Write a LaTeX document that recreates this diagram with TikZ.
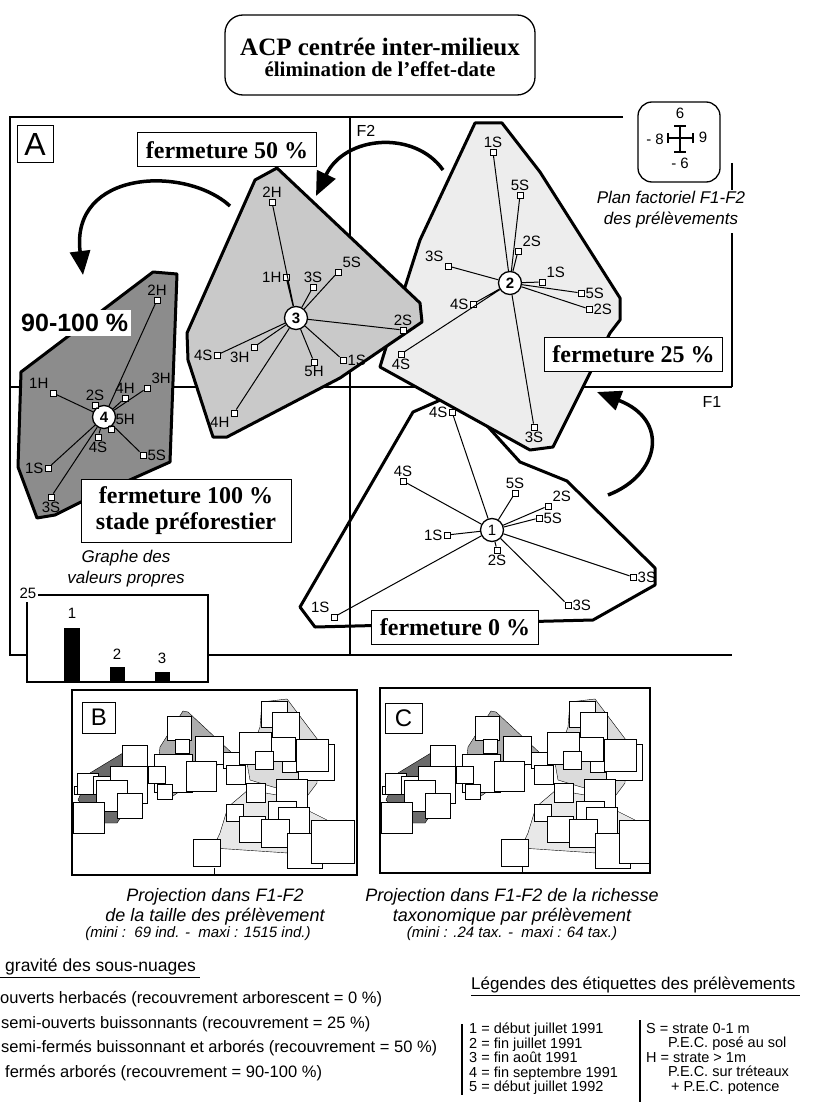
\documentclass[tikz,border=0pt]{standalone}
\usepackage{fontspec}
\setmainfont{Liberation Serif}
\setsansfont{Liberation Sans}
\usetikzlibrary{arrows.meta}
\definecolor{grisA}{gray}{0.93}
\definecolor{grisB}{gray}{0.79}
\definecolor{grisC}{gray}{0.55}
\definecolor{grisD}{gray}{0.42}
\definecolor{grisE}{gray}{0.68}
\definecolor{grisF}{gray}{0.86}
\definecolor{grisG}{gray}{0.91}
\tikzset{
    CC1/.style ={circle, minimum size=23pt, inner sep=0pt, draw, fill=white, line width=1.3pt, font=\sffamily\bfseries\fontsize{15}{15}\selectfont},
    SQ/.style ={rectangle, minimum size=6pt, inner sep=0pt, draw, fill=white, line width=0.9pt},
    RA1/.style ={rectangle, draw, fill=white, line width=1pt, inner xsep=8pt, minimum height=34pt, align=center, font=\bfseries\fontsize{24}{26}\selectfont},
    RA2/.style ={rectangle, draw, line width=1pt, inner sep=0pt},
    RA3/.style ={rectangle, rounded corners=18pt, draw, line width=1.3pt},
    LB/.style ={inner sep=1pt, font=\sffamily\fontsize{15}{15}\selectfont},
    IT/.style ={inner sep=0pt, align=center, font=\sffamily\itshape\fontsize{17}{21}\selectfont},
    LG/.style ={inner sep=0pt, anchor=west, font=\sffamily\fontsize{16.5}{16.5}\selectfont},
    HU/.style ={line width=3pt, line join=round},
    RY/.style ={line width=1pt},
    AX/.style ={line width=1.3pt},
    FL/.style ={line width=3.5pt, -{Triangle[length=24pt,width=20pt]}},
    PQ/.style ={draw, fill=white, line width=0.7pt}}
\newcommand{\nuage}{%
    \draw[thin, fill=grisD] (90,773) -- (123,753) -- (140,790) -- (117,823) -- (100,823) -- (78,800) -- cycle;
    \draw[thin, fill=grisE] (183,711) -- (188,712) -- (233,754) -- (173,796) -- (155,792) -- (160,747) -- cycle;
    \draw[thin, fill=grisF] (262,702) -- (287,699) -- (318,740) -- (317,783) -- (308,795) -- (273,787) -- (250,780) -- (247,763) -- (260,727) -- cycle;
    \draw[thin, fill=grisG] (248,790) -- (277,795) -- (327,820) -- (320,853) -- (288,853) -- (213,848) -- (220,833) -- (228,807) -- cycle;
    \foreach \x/\y/\s in {122/745/25, 74/786/8, 77/773/21, 93/776/18, 110/766/37, 96/780/31, 117/793/25, 73/802/31,
        167/716/24, 175/739/14, 195/736/28, 223/752/16, 154/754/38, 186/761/30, 148/766/17, 157/784/15,
        261/701/26, 272/712/27, 239/732/32, 282/757/15, 271/737/24, 298/744/36, 296/739/32, 255/751/18,
        226/765/19, 246/783/19, 276/779/31, 268/801/28, 278/807/31, 226/804/17, 239/816/26,
        261/819/28, 287/833/35, 311/820/43, 193/839/27}
        \draw[PQ] (\x,\y) rectangle ++(\s,\s);}

\begin{document}
\begin{tikzpicture}[x=1pt,y=-1pt]
    \useasboundingbox (0,0) rectangle (817,1102);
    % titre
    \node[RA3, minimum width=310pt, minimum height=80pt] (titre) at (380,55) {};
    \node[font=\bfseries\fontsize{25}{25}\selectfont] (t1) at (380,47) {ACP centrée inter-milieux};
    \node[font=\bfseries\fontsize{21}{21}\selectfont] (t2) at (380,69) {élimination de l'effet-date};
    % cadre A et axes
    \draw[AX] (623,117) -- (10,117) -- (10,655) -- (27,655);
    \draw[AX] (208,655) -- (732,655);
    \draw[AX] (732,163) -- (732,190);
    \draw[AX] (732,233) -- (732,387);
    \draw[AX] (10,387) -- (732,387);
    \draw[AX] (350,117) -- (350,655);
    \node[RA2, minimum width=36pt, minimum height=37pt, font=\sffamily\fontsize{32}{32}\selectfont] (A) at (35,144.5) {A};
    \node[LB, font=\sffamily\fontsize{16}{16}\selectfont] (F2) at (366,131) {F2};
    \node[LB, font=\sffamily\fontsize{16}{16}\selectfont] (F1) at (712,402) {F1};
    % sous-nuages
    \draw[HU] (413,412) -- (445,398) -- (480,418) -- (520,462) -- (567,481) -- (655,568) -- (655,585) -- (593,620) -- (315,627) -- (300,607) -- cycle;
    \draw[HU, fill=grisA] (475,123) -- (502,123) -- (540,172) -- (620,298) -- (620,320) -- (610,333) -- (553,447) -- (530,450) -- (380,367) -- (383,357) -- (405,287) -- (420,240) -- cycle;
    \draw[HU, fill=grisB] (277,168) -- (420,303) -- (422,322) -- (340,378) -- (227,437) -- (213,437) -- (188,360) -- (187,333) -- (255,180) -- cycle;
    \draw[HU, fill=grisC] (21,372) -- (153,272) -- (177,274) -- (170,462) -- (85,500) -- (55,515) -- (37,518) -- (18,467) -- cycle;
    % fleches
    \coordinate (d1) at (608,495); \coordinate (a1) at (597,392);
    \coordinate (d2) at (443,170); \coordinate (a2) at (316,196);
    \coordinate (d3) at (230,206); \coordinate (a3) at (83,275);
    \draw[FL] (d1) .. controls (660,475) and (670,420) .. (a1);
    \draw[FL] (d2) .. controls (415,130) and (345,135) .. (a2);
    \draw[FL] (d3) .. controls (185,165) and (70,170) .. (a3);
    % etiquettes
    \node[RA1] (f50) at (227,150) {fermeture 50 \%};
    \node[RA1] (f25) at (633.5,354) {fermeture 25 \%};
    \node[RA1] (f0) at (455,627.5) {fermeture 0 \%};
    \node[RA1, minimum width=210pt, minimum height=63pt, inner ysep=2pt, font=\bfseries\fontsize{24}{26}\selectfont] (f100) at (186,510.5) {fermeture 100 \%\\stade préforestier};
    \node[fill=white, inner xsep=3pt, inner ysep=4pt, anchor=west, font=\sffamily\bfseries\fontsize{25}{25}\selectfont] (p90) at (18,323) {90-100 \%};
    % nuage 1
    \node[CC1, font=\sffamily\fontsize{15}{15}\selectfont] (1) at (492,530) {1};
    \node[SQ,label={[LB]left:4S}] (1a) at (452,412) {};
    \node[SQ,label={[LB]above:4S}] (1b) at (403,481) {};
    \node[SQ,label={[LB]above:5S}] (1c) at (515,493) {};
    \node[SQ,label={[LB]above right:2S}] (1d) at (548,506) {};
    \node[SQ,label={[LB]right:5S}] (1e) at (539,518) {};
    \node[SQ,label={[LB]left:1S}] (1f) at (447,535) {};
    \node[SQ,label={[LB]below:2S}] (1g) at (497,550) {};
    \node[SQ,label={[LB]above left:1S}] (1h) at (334,617) {};
    \node[SQ,label={[LB]right:3S}] (1i) at (568,605) {};
    \node[SQ,label={[LB]right:3S}] (1j) at (633,577) {};
    \draw[RY] (1) -- (1a) (1) -- (1b) (1) -- (1c) (1) -- (1d) (1) -- (1e)
              (1) -- (1f) (1) -- (1g) (1) -- (1h) (1) -- (1i) (1) -- (1j);
    % nuage 2
    \node[CC1] (2) at (510,283) {2};
    \node[SQ,label={[LB]above:1S}] (2a) at (493,152) {};
    \node[SQ,label={[LB]above:5S}] (2b) at (520,195) {};
    \node[SQ,label={[LB]above right:2S}] (2c) at (518,251) {};
    \node[SQ,label={[LB]above left:3S}] (2d) at (448,266) {};
    \node[SQ,label={[LB]above right:1S}] (2e) at (542,282) {};
    \node[SQ,label={[LB]right:5S}] (2f) at (581,293) {};
    \node[SQ,label={[LB]right:2S}] (2g) at (589,309) {};
    \node[SQ,label={[LB]left:4S}] (2h) at (473,304) {};
    \node[SQ,label={[LB]below:4S}] (2i) at (401,354) {};
    \node[SQ,label={[LB]below:3S}] (2j) at (534,427) {};
    \draw[RY] (2) -- (2a) (2) -- (2b) (2) -- (2c) (2) -- (2d) (2) -- (2e)
              (2) -- (2f) (2) -- (2g) (2) -- (2h) (2) -- (2i) (2) -- (2j);
    % nuage 3
    \node[CC1] (3) at (296,318) {3};
    \node[SQ,label={[LB]above:2H}] (3a) at (272,202) {};
    \node[SQ,label={[LB]left:1H}] (3b) at (286,277) {};
    \node[SQ,label={[LB]above:3S}] (3c) at (313,287) {};
    \node[SQ,label={[LB]above right:5S}] (3d) at (338,272) {};
    \node[SQ,label={[LB]above:2S}] (3e) at (403,330) {};
    \node[SQ,label={[LB]left:4S}] (3f) at (217,355) {};
    \node[SQ,label={[LB]below left:3H}] (3g) at (254,347) {};
    \node[SQ,label={[LB]below:5H}] (3h) at (314,362) {};
    \node[SQ,label={[LB]right:1S}] (3i) at (343,360) {};
    \node[SQ,label={[LB]below left:4H}] (3j) at (234,413) {};
    \draw[RY] (3) -- (3a) (3) -- (3b) (3) -- (3c) (3) -- (3d) (3) -- (3e)
              (3) -- (3f) (3) -- (3g) (3) -- (3h) (3) -- (3i) (3) -- (3j);
    % nuage 4
    \node[CC1] (4) at (104,417) {4};
    \node[SQ,label={[LB]above:2H}] (4a) at (157,300) {};
    \node[SQ,label={[LB]above left:1H}] (4b) at (53,393) {};
    \node[SQ,label={[LB]above:2S}] (4c) at (95,405) {};
    \node[SQ,label={[LB]above:4H}] (4d) at (125,398) {};
    \node[SQ,label={[LB]above right:3H}] (4e) at (147,388) {};
    \node[SQ,label={[LB]above right:5H}] (4f) at (111,429) {};
    \node[SQ,label={[LB]below:4S}] (4g) at (98,437) {};
    \node[SQ,label={[LB]right:5S}] (4h) at (143,455) {};
    \node[SQ,label={[LB]left:1S}] (4i) at (48,468) {};
    \node[SQ,label={[LB]below:3S}] (4j) at (51,497) {};
    \draw[RY] (4) -- (4a) (4) -- (4b) (4) -- (4c) (4) -- (4d) (4) -- (4e)
              (4) -- (4f) (4) -- (4g) (4) -- (4h) (4) -- (4i) (4) -- (4j);
    % echelle du plan
    \node[RA3, rounded corners=14pt, minimum width=82pt, minimum height=80pt] (ech) at (679,142) {};
    \draw[line width=1.2pt] (668,138) -- (693,138) (680,126) -- (680,152)
        (668,133) -- (668,143) (693,133) -- (693,143) (674,126) -- (686,126) (674,152) -- (686,152);
    \node[LB] (e1) at (680,113) {6};
    \node[LB] (e2) at (680,163) {- 6};
    \node[LB] (e3) at (655,139) {- 8};
    \node[LB] (e4) at (703,137) {9};
    \node[IT] (plan) at (671,210) {Plan factoriel F1-F2\\des prélèvements};
    % valeurs propres
    \node[IT] (graphe) at (126,569) {Graphe des\\valeurs propres};
    \fill[white] (27,595) rectangle (208,682);
    \draw[AX] (38,595) -- (208,595) -- (208,682) -- (27,682) -- (27,602);
    \node[LB] (v0) at (28,593) {25};
    \fill (64,628) rectangle (80,682);
    \fill (110,667) rectangle (125,682);
    \fill (155,672) rectangle (170,682);
    \node[LB] (v1) at (72,613) {1};
    \node[LB] (v2) at (117,654) {2};
    \node[LB] (v3) at (162,658) {3};
    % projections B et C
    \nuage
    \begin{scope}[xshift=308pt]
        \clip (72,688) rectangle (342,873);
        \nuage
    \end{scope}
    \draw[AX] (72,690) rectangle (357,875);
    \draw[AX] (380,688) rectangle (650,873);
    \draw[thin] (214,868) -- (214,875);
    \draw[thin] (522,866) -- (522,873);
    \node[RA2, fill=white, minimum width=33pt, minimum height=31pt, font=\sffamily\fontsize{24}{24}\selectfont] (B) at (99,717.5) {B};
    \node[RA2, fill=white, minimum width=37pt, minimum height=30pt, font=\sffamily\fontsize{24}{24}\selectfont] (C) at (403.5,718) {C};
    \node[IT, font=\sffamily\itshape\fontsize{18}{20}\selectfont] (capB) at (215,907) {Projection dans F1-F2\\de la taille des prélèvement};
    \node[IT, font=\sffamily\itshape\fontsize{15}{15}\selectfont] (minB) at (198,934) {(mini :\ \ 69 ind. -\ \ maxi : 1515 ind.)};
    \node[IT, font=\sffamily\itshape\fontsize{18}{20}\selectfont] (capC) at (512,907) {Projection dans F1-F2 de la richesse\\taxonomique par prélèvement};
    \node[IT, font=\sffamily\itshape\fontsize{15}{15}\selectfont] (minC) at (512,934) {(mini : .24 tax. -\ \ maxi : 64 tax.)};
    % legendes
    \node[LG, font=\sffamily\fontsize{17.5}{17.5}\selectfont] (g0) at (5,967) {gravité des sous-nuages};
    \draw[thin] (0,977) -- (200,977);
    \node[LG] (g1) at (0,999) {ouverts herbacés (recouvrement arborescent = 0 \%)};
    \node[LG] (g2) at (1,1024) {semi-ouverts buissonnants (recouvrement = 25 \%)};
    \node[LG] (g3) at (1,1048) {semi-fermés buissonnant et arborés (recouvrement = 50 \%)};
    \node[LG] (g4) at (5,1073) {fermés arborés (recouvrement = 90-100 \%)};
    \node[LG, font=\sffamily\fontsize{17}{17}\selectfont] (h0) at (471,985) {Légendes des étiquettes des prélèvements};
    \draw[thin] (471,995) -- (800,995);
    \draw[AX] (462,1024) -- (462,1095);
    \draw[AX] (640,1020) -- (640,1102);
    \node[LG, anchor=north west, align=left, font=\sffamily\fontsize{14.5}{14.5}\selectfont] (h1) at (469,1023)
        {1 = début juillet 1991\\2 = fin juillet 1991\\3 = fin août 1991\\4 = fin septembre 1991\\5 = début juillet 1992};
    \node[LG, anchor=north west, align=left, font=\sffamily\fontsize{14.5}{14.5}\selectfont] (h2) at (646,1023)
        {S = strate 0-1 m\\\hspace*{22pt}P.E.C. posé au sol\\H = strate > 1m\\\hspace*{22pt}P.E.C. sur tréteaux\\\hspace*{25pt}+ P.E.C. potence};
\end{tikzpicture}
\end{document}
